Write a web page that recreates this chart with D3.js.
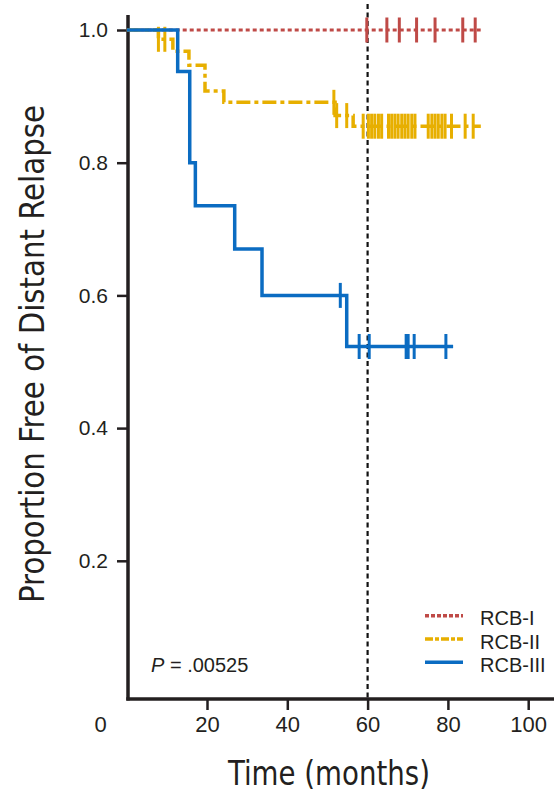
<!DOCTYPE html>
<html>
<head>
<meta charset="utf-8">
<script src="https://cdn.jsdelivr.net/npm/d3@7"></script>
<style>
  body { margin: 0; background: #fff; }
  svg { display: block; }
</style>
</head>
<body>
<div id="chart"></div>
<script>
// groups
const groups = ["RCB-I", "RCB-II", "RCB-III"];

// step curves: [months, proportion free after the step]
const rcb1Steps = [[0, 1.0]];
const rcb2Steps = [[0, 1.0], [7.9, 0.986], [11.5, 0.968], [15.5, 0.947], [19.5, 0.908], [24.2, 0.891], [51.9, 0.871], [56.4, 0.855]];
const rcb3Steps = [[0, 1.0], [12.7, 0.9375], [15.7, 0.80], [17.1, 0.735], [26.9, 0.67], [33.7, 0.60], [54.8, 0.523]];

// last follow-up of each curve
const endTimes = [88.7, 88.2, 81.3];

// censored times (months)
const rcb1Censor = [59.8, 64.8, 67.9, 72.2, 76.8, 83.7, 86.8];
const rcb2Censor = [7.9, 9.5, 51.6, 52.3, 54.8, 58.9, 60.2, 61.0, 61.8, 62.7, 63.5, 65.2, 66.0, 66.8, 67.6,
  68.5, 69.3, 70.1, 71.0, 71.8, 75.1, 76.0, 76.8, 77.6, 78.5, 79.3, 80.9, 84.3, 86.3];
const rcb3Censor = [53.2, 57.9, 60.4, 69.6, 70.1, 71.6, 79.5];

const xTicks = [20, 40, 60, 80, 100];
const yTicks = [0.2, 0.4, 0.6, 0.8, 1.0];
const refTime = 60;
const pLabel = ".00525";

const width = 554, height = 792;
const colors = ["#bf4a47", "#e7af00", "#0b6cc2"];
const dashes = ["4,3", "14,4,4,4", null];
const ink = "#231f20";

const svg = d3.select("#chart").append("svg")
  .attr("width", width)
  .attr("height", height);

const x = d3.scaleLinear().domain([0, 100]).range([126.7, 528.2]);
const y = d3.scaleLinear().domain([0, 1]).range([693.5, 30]);
const axisY = 699;   // baseline of the bottom axis
const axisX = 128;   // left axis line

// reference line at 60 months
svg.append("line")
  .attr("x1", x(refTime)).attr("x2", x(refTime))
  .attr("y1", 4).attr("y2", axisY)
  .attr("stroke", "#111").attr("stroke-width", 2.2)
  .attr("stroke-dasharray", "5,3.5");

// axes
const yAxis = svg.append("g")
  .attr("transform", `translate(${axisX},0)`)
  .call(d3.axisLeft(y).tickValues(yTicks).tickFormat(d3.format(".1f")).tickSize(11).tickPadding(9));
yAxis.select(".domain").remove();
yAxis.selectAll(".tick line").attr("stroke", ink).attr("stroke-width", 2.5);
yAxis.selectAll(".tick text")
  .attr("fill", ink)
  .style("font-family", "'Liberation Sans', Arial, sans-serif")
  .style("font-size", "21px");

const xAxis = svg.append("g")
  .attr("transform", `translate(0,${axisY})`)
  .call(d3.axisBottom(x).tickValues(xTicks).tickSize(11).tickPadding(6));
xAxis.select(".domain").remove();
xAxis.selectAll(".tick line").attr("stroke", ink).attr("stroke-width", 2.5);
xAxis.selectAll(".tick text")
  .attr("fill", ink)
  .style("font-family", "'Liberation Sans', Arial, sans-serif")
  .style("font-size", "22px");
// the origin label sits left of the axis corner
xAxis.append("text")
  .attr("x", x(0) - 26).attr("y", 17).attr("dy", "0.71em")
  .attr("text-anchor", "middle")
  .attr("fill", ink)
  .style("font-family", "'Liberation Sans', Arial, sans-serif")
  .style("font-size", "22px")
  .text("0");

svg.append("line")
  .attr("x1", axisX).attr("x2", axisX)
  .attr("y1", 15).attr("y2", axisY + 1.5)
  .attr("stroke", ink).attr("stroke-width", 3.5);
svg.append("line")
  .attr("x1", axisX - 1.7).attr("x2", width)
  .attr("y1", axisY).attr("y2", axisY)
  .attr("stroke", ink).attr("stroke-width", 3.5);

// curves
const allSteps = [rcb1Steps, rcb2Steps, rcb3Steps];
const allCensor = [rcb1Censor, rcb2Censor, rcb3Censor];

function valueAt(steps, t) {
  let v = steps[0][1];
  steps.forEach(s => { if (s[0] <= t) v = s[1]; });
  return v;
}

const line = d3.line()
  .x(d => x(d[0]))
  .y(d => y(d[1]))
  .curve(d3.curveStepAfter);

allSteps.forEach((steps, i) => {
  const pts = steps.concat([[endTimes[i], steps[steps.length - 1][1]]]);
  const g = svg.append("g");
  g.append("path")
    .datum(pts)
    .attr("d", line)
    .attr("fill", "none")
    .attr("stroke", colors[i])
    .attr("stroke-width", i === 0 ? 3 : 3.5)
    .attr("stroke-dasharray", dashes[i]);
  g.selectAll("line.censor")
    .data(allCensor[i])
    .enter().append("line")
    .attr("class", "censor")
    .attr("x1", d => x(d)).attr("x2", d => x(d))
    .attr("y1", d => y(valueAt(steps, d)) - 12.5)
    .attr("y2", d => y(valueAt(steps, d)) + 12.5)
    .attr("stroke", colors[i])
    .attr("stroke-width", 3);
});

// legend
const legend = svg.append("g");
const legendY = [615.7, 639, 662.3];
groups.forEach((name, i) => {
  legend.append("line")
    .attr("x1", 425).attr("x2", 463)
    .attr("y1", legendY[i]).attr("y2", legendY[i])
    .attr("stroke", colors[i])
    .attr("stroke-width", 3.5)
    .attr("stroke-dasharray", i === 0 ? "4,2" : (i === 1 ? "8,2,4,2" : null));
  legend.append("text")
    .attr("x", 480).attr("y", legendY[i] + 9.5)
    .attr("fill", ink)
    .style("font-family", "'Liberation Sans', Arial, sans-serif")
    .style("font-size", "20px")
    .text(name);
});

// p value
const p = svg.append("text")
  .attr("x", 151).attr("y", 672)
  .attr("fill", ink)
  .style("font-family", "'Liberation Sans', Arial, sans-serif")
  .style("font-size", "20px");
p.append("tspan").style("font-style", "italic").text("P");
p.append("tspan").text(" = " + pLabel);

// axis titles
const titleFont = "'Liberation Sans Narrow', 'DejaVu Sans Condensed', sans-serif";
svg.append("text")
  .attr("transform", "translate(44,354) rotate(-90)")
  .attr("text-anchor", "middle")
  .attr("fill", ink)
  .attr("textLength", 498)
  .attr("lengthAdjust", "spacingAndGlyphs")
  .style("font-family", titleFont)
  .style("font-size", "33px")
  .text("Proportion Free of Distant Relapse");

svg.append("text")
  .attr("x", 329).attr("y", 785)
  .attr("text-anchor", "middle")
  .attr("fill", ink)
  .attr("textLength", 202)
  .attr("lengthAdjust", "spacingAndGlyphs")
  .style("font-family", titleFont)
  .style("font-size", "33px")
  .text("Time (months)");
</script>
</body>
</html>
